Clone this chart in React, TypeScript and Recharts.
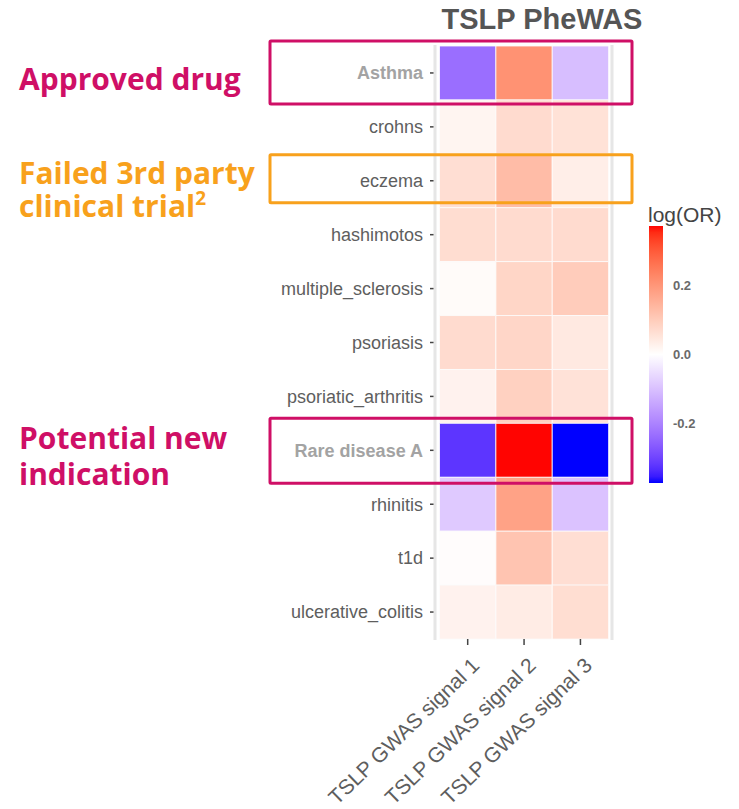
import React from 'react';
import { BarChart, Bar, XAxis, YAxis, Cell } from 'recharts';

// rows of the heatmap, top to bottom
const diseases = [
  'Asthma',
  'crohns',
  'eczema',
  'hashimotos',
  'multiple_sclerosis',
  'psoriasis',
  'psoriatic_arthritis',
  'Rare disease A',
  'rhinitis',
  't1d',
  'ulcerative_colitis',
];
const signals = ['TSLP GWAS signal 1', 'TSLP GWAS signal 2', 'TSLP GWAS signal 3'];

// log(OR) per disease, one array per GWAS signal
const signal1 = [-0.236, 0.02, 0.064, 0.066, 0.008, 0.07, 0.025, -0.324, -0.086, 0.005, 0.025];
const signal2 = [0.21, 0.07, 0.13, 0.07, 0.081, 0.08, 0.09, 0.374, 0.18, 0.115, 0.037];
const signal3 = [-0.105, 0.058, 0.033, 0.07, 0.099, 0.043, 0.057, -0.375, -0.097, 0.064, 0.065];

const legendTicks = [0.2, 0.0, -0.2];
const boldRows = ['Asthma', 'Rare disease A'];

const allValues = [...signal1, ...signal2, ...signal3];
const vMin = Math.min(...allValues);
const vMax = Math.max(...allValues);
const vAbs = Math.max(Math.abs(vMin), Math.abs(vMax));

// --- blue / white / red gradient interpolated in Lab, like ggplot's gradient2
const toLin = (c: number) => {
  const v = c / 255;
  return v <= 0.04045 ? v / 12.92 : Math.pow((v + 0.055) / 1.055, 2.4);
};
const fromLin = (c: number) => {
  const v = c <= 0.0031308 ? 12.92 * c : 1.055 * Math.pow(c, 1 / 2.4) - 0.055;
  return Math.round(Math.max(0, Math.min(1, v)) * 255);
};
function hexToLab(hex: string) {
  const r = toLin(parseInt(hex.slice(1, 3), 16));
  const g = toLin(parseInt(hex.slice(3, 5), 16));
  const b = toLin(parseInt(hex.slice(5, 7), 16));
  const X = (0.4124 * r + 0.3576 * g + 0.1805 * b) / 0.95047;
  const Y = 0.2126 * r + 0.7152 * g + 0.0722 * b;
  const Z = (0.0193 * r + 0.1192 * g + 0.9505 * b) / 1.08883;
  const f = (t: number) => (t > 0.008856 ? Math.cbrt(t) : 7.787 * t + 16 / 116);
  return [116 * f(Y) - 16, 500 * (f(X) - f(Y)), 200 * (f(Y) - f(Z))];
}
function labToRgb([L, a, b]: number[]) {
  const fy = (L + 16) / 116;
  const fx = fy + a / 500;
  const fz = fy - b / 200;
  const inv = (t: number) => (t * t * t > 0.008856 ? t * t * t : (t - 16 / 116) / 7.787);
  const X = inv(fx) * 0.95047;
  const Y = inv(fy);
  const Z = inv(fz) * 1.08883;
  const r = 3.2406 * X - 1.5372 * Y - 0.4986 * Z;
  const g = -0.9689 * X + 1.8758 * Y + 0.0415 * Z;
  const bb = 0.0557 * X - 0.204 * Y + 1.057 * Z;
  return `rgb(${fromLin(r)},${fromLin(g)},${fromLin(bb)})`;
}
const LOW = hexToLab('#0000ff');
const MID = hexToLab('#ffffff');
const HIGH = hexToLab('#ff0000');
const mix = (a: number[], b: number[], t: number) => a.map((v, i) => v + (b[i] - v) * t);

function colour(v: number) {
  const t = Math.max(0, Math.min(1, 0.5 + v / (2 * vAbs)));
  if (t < 0.5) return labToRgb(mix(LOW, MID, t / 0.5));
  return labToRgb(mix(MID, HIGH, (t - 0.5) / 0.5));
}

// each cell is one unit wide, stacked left to right
const rows = diseases.map((d, i) => ({
  disease: d,
  c1: 1,
  c2: 1,
  c3: 1,
  v1: signal1[i],
  v2: signal2[i],
  v3: signal3[i],
}));

const W = 739;
const H = 809;
const M = { top: 46, right: 127, bottom: 0, left: 0 };
const Y_AXIS_W = 435;
const X_AXIS_H = 170;
const plotTop = M.top;
const plotBottom = H - M.bottom - X_AXIS_H;
const plotLeft = M.left + Y_AXIS_W;
const plotRight = W - M.right;
const band = (plotBottom - plotTop) / diseases.length;

const FONT = '"Liberation Sans", Arial, sans-serif';
const NOTE_FONT = '"Open Sans", "Noto Sans", sans-serif';
const MAGENTA = '#cf0f66';
const ORANGE = '#f8a11c';

const YTick = (props: any) => {
  const { x, y, payload } = props;
  const bold = boldRows.includes(payload.value);
  return (
    <text
      x={x}
      y={y}
      dy="0.35em"
      textAnchor="end"
      fontFamily={FONT}
      fontSize={18}
      fontWeight={bold ? 700 : 400}
      fill={bold ? '#a3a3a3' : '#5e5e5e'}
    >
      {payload.value}
    </text>
  );
};

const XTick = (props: any) => {
  const { x, y, payload } = props;
  const label = signals[Math.floor(payload.value)];
  return (
    <g transform={`translate(${x + 13},${y + 20})`}>
      <text
        x={0}
        y={0}
        textAnchor="end"
        transform="rotate(-44)"
        fontFamily={FONT}
        fontSize={21}
        fill="#5e5e5e"
      >
        {label}
      </text>
    </g>
  );
};

function Overlay() {
  const barTop = 226;
  const barBottom = 483;
  const barX = 649;
  const pxPerUnit = (barBottom - barTop) / (vMax - vMin);
  const stops = Array.from({ length: 41 }, (_, i) => {
    const v = vMax - ((vMax - vMin) * i) / 40;
    return { off: i / 40, c: colour(v) };
  });
  const rowBox = (name: string, padTop: number, padBottom: number) => {
    const i = diseases.indexOf(name);
    return { y: plotTop + i * band - padTop, h: band + padTop + padBottom };
  };
  const boxes = [
    { ...rowBox('Asthma', 5, 4), c: MAGENTA },
    { ...rowBox('eczema', -1, -5), c: ORANGE },
    { ...rowBox('Rare disease A', 5, 6), c: MAGENTA },
  ];
  return (
    <svg
      width={W}
      height={H}
      style={{ position: 'absolute', left: 0, top: 0, pointerEvents: 'none' }}
    >
      <defs>
        <linearGradient id="lor" x1="0" y1="0" x2="0" y2="1">
          {stops.map((s, i) => (
            <stop key={i} offset={s.off} stopColor={s.c} />
          ))}
        </linearGradient>
      </defs>

      {/* panel edges */}
      <line x1={plotLeft} x2={plotLeft} y1={plotTop - 1} y2={plotBottom + 1} stroke="#e6e6e6" strokeWidth={3} />
      <line x1={plotRight} x2={plotRight} y1={plotTop - 1} y2={plotBottom + 1} stroke="#e6e6e6" strokeWidth={3} />

      <text x={542} y={29} textAnchor="middle" fontFamily={FONT} fontWeight={700} fontSize={29} fill="#555">
        TSLP PheWAS
      </text>

      {/* colour bar legend */}
      <text x={648} y={222} fontFamily={FONT} fontSize={21} fill="#444">
        log(OR)
      </text>
      <rect x={barX} y={barTop} width={14} height={barBottom - barTop} fill="url(#lor)" />
      {legendTicks.map((t) => (
        <text
          key={t}
          x={673}
          y={barTop + (vMax - t) * pxPerUnit}
          dy="0.35em"
          fontFamily={FONT}
          fontWeight={700}
          fontSize={13}
          fill="#6a6a6a"
        >
          {t.toFixed(1)}
        </text>
      ))}

      {/* highlight boxes */}
      {boxes.map((b, i) => (
        <rect key={i} x={270} y={b.y} width={362} height={b.h} fill="none" stroke={b.c} strokeWidth={3} rx={1} />
      ))}

      <g fontFamily={NOTE_FONT} fontWeight={700} fontSize={30}>
        <text x={19} y={90} fill={MAGENTA}>Approved drug</text>
        <text x={19} y={184} fill={ORANGE}>Failed 3rd party</text>
        <text x={19} y={217} fill={ORANGE}>
          clinical trial
          <tspan fontSize={19} dy={-12}>2</tspan>
        </text>
        <text x={19} y={449} fill={MAGENTA}>Potential new</text>
        <text x={19} y={485} fill={MAGENTA}>indication</text>
      </g>
    </svg>
  );
}

export default function App() {
  return (
    <div style={{ position: 'absolute', left: 0, top: 0, width: W, height: H, background: '#fff' }}>
      <BarChart
        width={W}
        height={H}
        data={rows}
        layout="vertical"
        margin={M}
        barCategoryGap={0}
      >
        <XAxis
          type="number"
          domain={[-0.08, 3.06]}
          allowDataOverflow
          ticks={[0.5, 1.5, 2.5]}
          interval={0}
          height={X_AXIS_H}
          axisLine={false}
          tickSize={6}
          tickLine={{ stroke: '#444', strokeWidth: 1.5 }}
          tick={<XTick />}
        />
        <YAxis
          type="category"
          dataKey="disease"
          width={Y_AXIS_W}
          interval={0}
          axisLine={false}
          tickSize={5}
          tickMargin={7}
          tickLine={{ stroke: '#444', strokeWidth: 1.5 }}
          tick={<YTick />}
        />
        <Bar dataKey="c1" stackId="s" isAnimationActive={false} stroke="#fcfcfc" strokeWidth={0.8}>
          {rows.map((r, i) => (
            <Cell key={i} fill={colour(r.v1)} />
          ))}
        </Bar>
        <Bar dataKey="c2" stackId="s" isAnimationActive={false} stroke="#fcfcfc" strokeWidth={0.8}>
          {rows.map((r, i) => (
            <Cell key={i} fill={colour(r.v2)} />
          ))}
        </Bar>
        <Bar dataKey="c3" stackId="s" isAnimationActive={false} stroke="#fcfcfc" strokeWidth={0.8}>
          {rows.map((r, i) => (
            <Cell key={i} fill={colour(r.v3)} />
          ))}
        </Bar>
      </BarChart>
      <Overlay />
    </div>
  );
}
